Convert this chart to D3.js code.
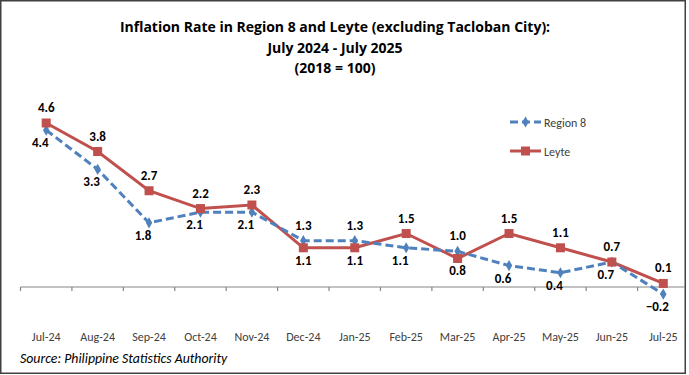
<!DOCTYPE html>
<html>
<head>
<meta charset="utf-8">
<script src="https://cdn.jsdelivr.net/npm/d3@7/dist/d3.min.js"></script>
<style>
  html, body { margin: 0; padding: 0; background: #fff; }
  svg { display: block; font-family: Carlito, Lato, "Noto Sans", sans-serif; }
</style>
</head>
<body>
<svg id="chart" width="689" height="375"></svg>
<script>
const categories = ["Jul-24","Aug-24","Sep-24","Oct-24","Nov-24","Dec-24","Jan-25","Feb-25","Mar-25","Apr-25","May-25","Jun-25","Jul-25"];
const region8 = [4.4, 3.3, 1.8, 2.1, 2.1, 1.3, 1.3, 1.1, 1.0, 0.6, 0.4, 0.7, -0.2];
const leyte   = [4.6, 3.8, 2.7, 2.2, 2.3, 1.1, 1.1, 1.5, 0.8, 1.5, 1.1, 0.7, 0.1];
const seriesNames = ["Region 8", "Leyte"];
const titleLines = ["Inflation Rate in Region 8 and Leyte (excluding Tacloban City):", "July 2024 - July 2025", "(2018 = 100)"];
const sourceText = "Source: Philippine Statistics Authority";

const svg = d3.select("#chart");
const blue = "#4F81BD", red = "#C0504D";

// border
svg.append("rect").attr("x", 0.75).attr("y", 0.75).attr("width", 684.5).attr("height", 372.5)
  .attr("fill", "#fff").attr("stroke", "#404040").attr("stroke-width", 1.5);

// title
const title = svg.append("text").attr("text-anchor", "middle").attr("font-weight", "bold")
  .attr("font-size", 14).attr("fill", "#000").attr("font-family", "'Open Sans', Lato, sans-serif");
titleLines.forEach((t, i) => {
  title.append("tspan").attr("x", 335).attr("y", 32 + i * 20.5).text(t);
});

// scales
const x = d3.scaleBand().domain(categories).range([20.5, 689]).paddingInner(0).paddingOuter(0);
const cx = d => x(d) + x.bandwidth() / 2;
const y = d3.scaleLinear().domain([0, 4.6]).range([287, 123]);

// axis
const ax = svg.append("g").attr("transform", `translate(0,${y(0)})`);
ax.append("line").attr("x1", 20.5).attr("x2", 685).attr("y1", 0).attr("y2", 0)
  .attr("stroke", "#868686").attr("stroke-width", 1.2);
ax.selectAll("line.tk").data(categories).enter().append("line").attr("class", "tk")
  .attr("x1", d => x(d)).attr("x2", d => x(d)).attr("y1", 0).attr("y2", 4)
  .attr("stroke", "#868686").attr("stroke-width", 1.2);
const xAxis = d3.axisBottom(x).tickSize(0).tickFormat(d => d);
const axG = svg.append("g").attr("transform", `translate(0,${y(0)})`).call(xAxis);
axG.select(".domain").remove();
axG.selectAll("text").attr("font-size", 12).attr("fill", "#404040")
  .attr("font-family", "Carlito, Lato, 'Noto Sans', sans-serif")
  .attr("dy", 0).attr("y", 54);

// lines
const lineGen = d3.line().x((d, i) => cx(categories[i])).y(d => y(d));
svg.append("path").datum(leyte).attr("d", lineGen).attr("fill", "none")
  .attr("stroke", red).attr("stroke-width", 3);
svg.append("path").datum(region8).attr("d", lineGen).attr("fill", "none")
  .attr("stroke", blue).attr("stroke-width", 3).attr("stroke-dasharray", "8,4");

// markers
const diamond = d3.symbol().type(d3.symbolDiamond).size(36);
svg.selectAll("path.r8m").data(region8).enter().append("path").attr("class", "r8m")
  .attr("d", diamond).attr("fill", blue)
  .attr("transform", (d, i) => `translate(${cx(categories[i])},${y(d)})`);
svg.selectAll("rect.lym").data(leyte).enter().append("rect").attr("class", "lym")
  .attr("x", (d, i) => cx(categories[i]) - 4.5).attr("y", d => y(d) - 4.5)
  .attr("width", 9).attr("height", 9).attr("fill", red);

// data labels
const fmt = d3.format(".1f");
function labels(data, other, isLeyte) {
  svg.selectAll(null).data(data).enter().append("text")
    .attr("text-anchor", "middle").attr("font-size", 13).attr("font-weight", "bold").attr("fill", "#000")
    .attr("x", (d, i) => {
      const above = isLeyte ? d >= other[i] : d > other[i];
      return cx(categories[i]) + (above ? 0 : (isLeyte ? 0 : -6));
    })
    .attr("y", (d, i) => {
      const above = isLeyte ? d >= other[i] : d > other[i];
      return y(d) + (above ? -11 : 17);
    })
    .text(d => fmt(d));
}
labels(leyte, region8, true);
labels(region8, leyte, false);

// legend
const lg = svg.append("g");
const legendItems = [
  { name: seriesNames[0], color: blue, dash: "8,4", marker: "diamond", yy: 122 },
  { name: seriesNames[1], color: red, dash: null, marker: "square", yy: 151 }
];
legendItems.forEach(it => {
  lg.append("line").attr("x1", 510).attr("x2", 541).attr("y1", it.yy).attr("y2", it.yy)
    .attr("stroke", it.color).attr("stroke-width", 3).attr("stroke-dasharray", it.dash);
  if (it.marker === "diamond") {
    lg.append("path").attr("d", diamond).attr("fill", it.color).attr("transform", `translate(525.5,${it.yy})`);
  } else {
    lg.append("rect").attr("x", 521).attr("y", it.yy - 4.5).attr("width", 9).attr("height", 9).attr("fill", it.color);
  }
  lg.append("text").attr("x", 544).attr("y", it.yy + 4.5).attr("font-size", 12).attr("fill", "#404040").text(it.name);
});

// source
svg.append("text").attr("x", 20).attr("y", 363).attr("font-size", 13.8).attr("font-style", "italic")
  .attr("fill", "#000").text(sourceText);
</script>
</body>
</html>
